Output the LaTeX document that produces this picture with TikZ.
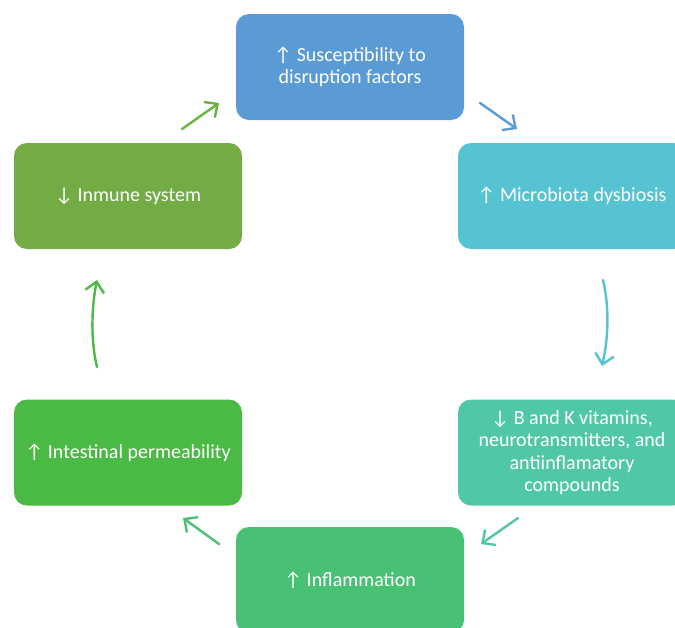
\documentclass[tikz,border=0pt]{standalone}
\usepackage{fontspec}
\setmainfont{Carlito}
\usetikzlibrary{arrows.meta}
\definecolor{cTop}{HTML}{5B9BD5}
\definecolor{cR1}{HTML}{56C3D2}
\definecolor{cR2}{HTML}{50C8A8}
\definecolor{cBot}{HTML}{49C174}
\definecolor{cL2}{HTML}{4BBA45}
\definecolor{cL1}{HTML}{73AB45}
\tikzset{
  box/.style={rounded corners=13pt, minimum width=228pt, minimum height=106pt, inner sep=0pt,
    text=white, font=\fontsize{20}{22.5}\selectfont, align=center},
  conn/.style={line width=2.4pt, line cap=round, -{Straight Barb[length=10pt,width=19pt,line width=2.4pt]}}
}
\begin{document}
\begin{tikzpicture}[x=1pt,y=-1pt]
\useasboundingbox (0,0) rectangle (675,627);
\begin{scope}
\clip (0,0) rectangle (675,627);
\node[box, fill=cTop] (top) at (350,67) {↑ Susceptibility to\\disruption factors};
\node[box, fill=cR1] (r1) at (572,196) {↑ Microbiota dysbiosis};
\node[box, fill=cR2] (r2) at (572,452.5) {↓ B and K vitamins,\\neurotransmitters, and\\antiinflamatory\\compounds};
\node[box, fill=cBot] (bot) at (350,580) {↑ Inflammation};
\node[box, fill=cL2] (l2) at (128,452.5) {↑ Intestinal permeability};
\node[box, fill=cL1] (l1) at (128,196) {↓ Inmune system};
\end{scope}
\coordinate (a1s) at (182,129); \coordinate (a1e) at (219,103);
\coordinate (a2s) at (480,103); \coordinate (a2e) at (517,129);
\coordinate (a3s) at (603,280); \coordinate (a3e) at (602,366);
\coordinate (a4s) at (518,518); \coordinate (a4e) at (481,544);
\coordinate (a5s) at (219,544); \coordinate (a5e) at (183,518);
\coordinate (a6s) at (97,367); \coordinate (a6e) at (97,280);
\draw[conn, draw=cL1!90!green] (a1s) -- (a1e);
\draw[conn, draw=cTop] (a2s) -- (a2e);
\draw[conn, draw=cR1] (a3s) .. controls (609,305) and (609,335) .. (a3e);
\draw[conn, draw=cR2] (a4s) -- (a4e);
\draw[conn, draw=cBot] (a5s) -- (a5e);
\draw[conn, draw=cL2] (a6s) .. controls (91,342) and (91,310) .. (a6e);
\end{tikzpicture}
\end{document}
